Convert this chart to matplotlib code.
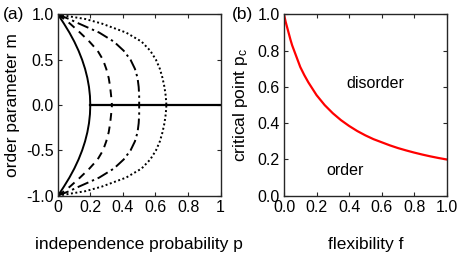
import numpy as np
import matplotlib
matplotlib.use("Agg")
import matplotlib.pyplot as plt

plt.rcParams['font.family'] = ['Liberation Sans', 'DejaVu Sans']
plt.rcParams['mathtext.fontset'] = 'custom'
plt.rcParams['mathtext.rm'] = 'Liberation Sans'
plt.rcParams['mathtext.it'] = 'Liberation Sans'

# ---- panel (a): order parameter m (upper branch) vs independence probability p
m_levels = [1.0, 0.95, 0.9, 0.8, 0.7, 0.6, 0.5, 0.4, 0.3, 0.2, 0.1, 0.0]
p_solid = [0.0, 0.020, 0.038, 0.072, 0.102, 0.128, 0.150, 0.168, 0.182, 0.192, 0.198, 0.200]
p_dashed = [0.0, 0.040, 0.075, 0.137, 0.195, 0.245, 0.278, 0.298, 0.313, 0.322, 0.328, 0.333]
p_dashdot = [0.0, 0.070, 0.130, 0.255, 0.345, 0.405, 0.447, 0.474, 0.490, 0.497, 0.500, 0.500]
p_dotted = [0.0, 0.170, 0.270, 0.420, 0.515, 0.568, 0.603, 0.627, 0.643, 0.655, 0.663, 0.667]
p_disorder = [0.2, 1.0]
m_disorder = [0.0, 0.0]

# ---- panel (b): critical point vs flexibility
flex = [0.0, 0.01, 0.025, 0.04, 0.05, 0.075, 0.1, 0.125, 0.15, 0.175, 0.2, 0.25, 0.3,
        0.35, 0.4, 0.45, 0.5, 0.55, 0.6, 0.65, 0.7, 0.75, 0.8, 0.85, 0.9, 0.95, 1.0]
p_crit = [1.0, 0.96, 0.91, 0.86, 0.83, 0.77, 0.71, 0.665, 0.625, 0.59, 0.555, 0.50, 0.455,
          0.417, 0.385, 0.357, 0.333, 0.312, 0.295, 0.278, 0.263, 0.25, 0.238, 0.227,
          0.217, 0.208, 0.20]

fig = plt.figure(figsize=(4.63, 2.54), dpi=100)
frame_col = '#262626'
tick_fs = 11.5
lab_fs = 12.5

axa = fig.add_axes([0.1246, 0.2295, 0.352, 0.7135])
axb = fig.add_axes([0.6134, 0.2295, 0.3514, 0.7135])

m_arr = np.array(m_levels)
styles = [
    (p_solid, dict(linestyle='-', linewidth=1.4)),
    (p_dashed, dict(linestyle=(0, (4, 3)), linewidth=1.4)),
    (p_dashdot, dict(linestyle=(0, (6, 2, 1.2, 2)), linewidth=1.4)),
    (p_dotted, dict(linestyle=(0, (1, 1.3)), linewidth=1.4)),
]
for pv, st in styles:
    axa.plot(pv, m_arr, color='black', **st)
    axa.plot(pv, -m_arr, color='black', **st)
axa.plot(p_disorder, m_disorder, color='black', linewidth=1.6)

axa.set_xlim(0, 1)
axa.set_ylim(-1, 1)
axa.set_xticks([0, 0.2, 0.4, 0.6, 0.8, 1.0])
axa.set_xticklabels(['0', '0.2', '0.4', '0.6', '0.8', '1'])
axa.set_yticks([-1, -0.5, 0, 0.5, 1])
axa.set_yticklabels(['-1.0', '-0.5', '0.0', '0.5', '1.0'])
axa.set_xlabel('independence probability p', fontsize=lab_fs)
axa.set_ylabel('order parameter m', fontsize=lab_fs)

axb.plot(flex, p_crit, color='red', linewidth=1.6)
axb.set_xlim(0, 1)
axb.set_ylim(0, 1)
ticks_b = [0, 0.2, 0.4, 0.6, 0.8, 1.0]
axb.set_xticks(ticks_b)
axb.set_xticklabels(['%.1f' % t for t in ticks_b])
axb.set_yticks(ticks_b)
axb.set_yticklabels(['%.1f' % t for t in ticks_b])
axb.set_xlabel('flexibility f', fontsize=lab_fs)
axb.set_ylabel(r'critical point $\mathregular{p_c}$', fontsize=lab_fs)
axb.text(0.56, 0.62, 'disorder', fontsize=tick_fs, ha='center', va='center', color='black')
axb.text(0.377, 0.14, 'order', fontsize=tick_fs, ha='center', va='center', color='black')

for ax in (axa, axb):
    for s in ax.spines.values():
        s.set_color(frame_col)
        s.set_linewidth(1.0)
    ax.tick_params(direction='in', length=3, width=0.8, colors=frame_col,
                   labelcolor='black', labelsize=tick_fs, top=True, right=True, pad=3)
    ax.xaxis.label.set_va('center')
    ax.yaxis.label.set_va('center')

axa.xaxis.set_label_coords(0.5, -0.27)
axa.yaxis.set_label_coords(-0.277, 0.5)
axb.xaxis.set_label_coords(0.5, -0.27)
axb.yaxis.set_label_coords(-0.27, 0.5)

fig.text(3 / 463, 1 - 15 / 254, '(a)', fontsize=lab_fs, ha='left', va='center')
fig.text(232 / 463, 1 - 15 / 254, '(b)', fontsize=lab_fs, ha='left', va='center')

fig.savefig('out.png', dpi=100)
